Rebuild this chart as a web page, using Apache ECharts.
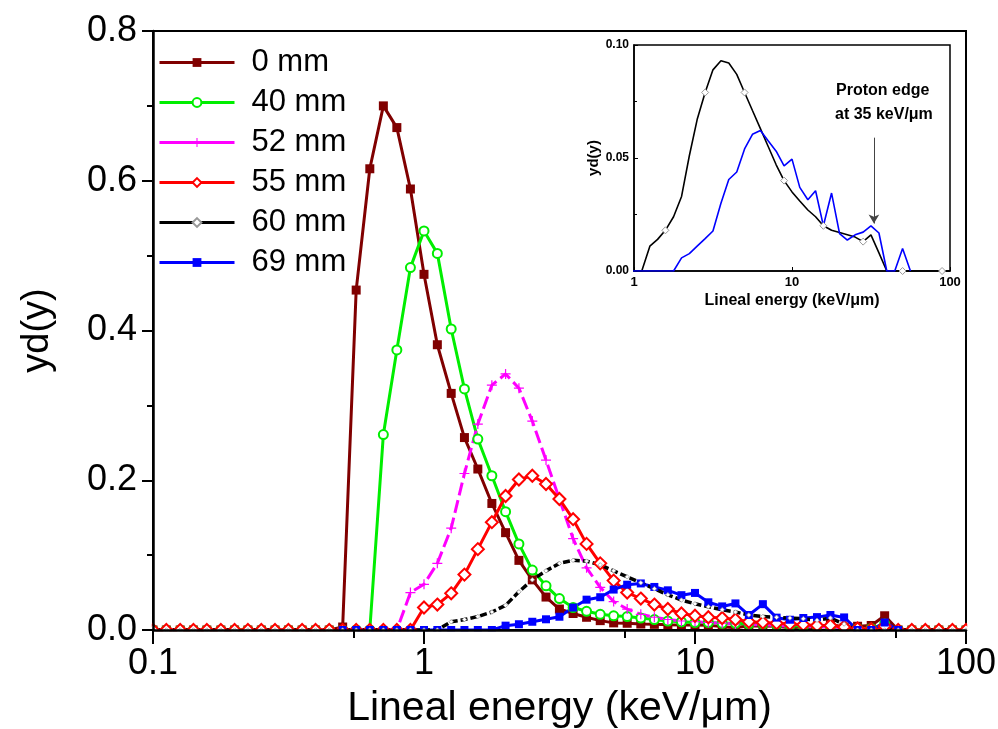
<!DOCTYPE html>
<html>
<head>
<meta charset="utf-8">
<script src="https://cdn.jsdelivr.net/npm/echarts@6/dist/echarts.min.js"></script>
<style>html,body{margin:0;padding:0;background:#fff}#c{width:998px;height:729px}</style>
</head>
<body>
<div id="c"></div>
<script>
// Lineal energy bins (keV/um), log spaced, 20 per decade
var xs = [0.1,0.112,0.126,0.141,0.158,0.178,0.2,0.224,0.251,0.282,0.316,0.355,0.398,0.447,0.501,0.562,0.631,0.708,0.794,0.891,
  1,1.12,1.26,1.41,1.58,1.78,2.0,2.24,2.51,2.82,3.16,3.55,3.98,4.47,5.01,5.62,6.31,7.08,7.94,8.91,
  10,11.2,12.6,14.1,15.8,17.8,20.0,22.4,25.1,28.2,31.6,35.5,39.8,44.7,50.1,56.2,63.1,70.8,79.4,89.1,100];

var names = ['0 mm','40 mm','52 mm','55 mm','60 mm','69 mm'];

var y0mm = [0,0,0,0,0,0,0,0,0,0,0,0,0,0,0.004,0.454,0.616,0.700,0.671,0.589,
  0.475,0.381,0.316,0.257,0.215,0.169,0.130,0.093,0.067,0.044,0.028,0.022,0.017,0.0125,0.0095,0.009,0.008,0.0076,0.007,0.0067,
  0.0067,0.0062,0.0045,0.0031,0.0058,0.0053,0.0049,0.0031,0.004,0.0027,0.0076,0.0036,0.005,0.006,0.019,0,0,0,0,0,0];
var y40mm = [0,0,0,0,0,0,0,0,0,0,0,0,0,0,0,0,0,0.261,0.374,0.484,
  0.533,0.503,0.402,0.322,0.255,0.206,0.158,0.115,0.080,0.059,0.042,0.030,0.025,0.021,0.019,0.018,0.016,0.014,0.012,0.011,
  0.010,0.010,0.009,0.009,0.008,0.008,0.007,0.006,0.005,0.005,0.004,0.003,0.002,0.002,0.008,0,0,0,0,0,0];
var y52mm = [0,0,0,0,0,0,0,0,0,0,0,0,0,0,0,0,0,0,0,0.050,
  0.061,0.089,0.136,0.209,0.275,0.327,0.342,0.323,0.279,0.227,0.175,0.122,0.083,0.057,0.038,0.028,0.021,0.017,0.014,0.012,
  0.011,0.010,0.009,0.008,0.007,0.007,0.006,0.005,0.005,0.004,0.004,0.003,0.002,0.001,0.006,0,0,0,0,0,0];
var y55mm = [0,0,0,0,0,0,0,0,0,0,0,0,0,0,0,0,0,0,0,0,
  0.030,0.034,0.049,0.074,0.108,0.144,0.179,0.201,0.206,0.195,0.175,0.148,0.115,0.089,0.066,0.050,0.042,0.034,0.028,0.022,
  0.019,0.017,0.016,0.014,0.011,0.010,0.009,0.008,0.007,0.006,0.006,0.004,0.002,0.001,0.005,0,0,0,0,0,0];
var y60mm = [0,0,0,0,0,0,0,0,0,0,0,0,0,0,0,0,0,0,0,0,
  0,0,0.011,0.014,0.018,0.024,0.033,0.051,0.067,0.079,0.089,0.093,0.092,0.087,0.079,0.071,0.063,0.055,0.047,0.040,
  0.035,0.031,0.027,0.024,0.020,0.018,0.017,0.016,0.015,0.013,0.016,0.008,0,0,0,0,0,0,0,0,0];
var y69mm = [null,null,null,null,null,null,null,null,null,null,null,null,null,null,0,0,0,0,0,0,
  0,0,0,0,0,0,0.0058,0.0077,0.011,0.0143,0.0177,0.030,0.0405,0.0438,0.054,0.0605,0.0622,0.0575,0.053,0.0465,
  0.0495,0.037,0.0315,0.0355,0.020,0.0345,0.0165,0.0137,0.016,0.0172,0.020,0.0168,0,0,0.010,0,null,null,null,null,null];

var mainXTicks = [0.1, 1, 10, 100];
var mainXMinorTicks = [0.55, 5.5, 55];
var arrowX = [33, 33];
var arrowY = [0.059, 0.021];

function pairs(ys){ return xs.map(function(x,i){ return [x, ys[i]]; }); }

var FF = '"Liberation Sans", Arial, sans-serif';
var plusPath = 'path://M0,4.4 L10,4.4 L10,5.6 L0,5.6 Z M4.4,0 L5.6,0 L5.6,10 L4.4,10 Z';

var chart = echarts.init(document.getElementById('c'), null, {renderer:'canvas'});

var s0 = {name:names[0], type:'line', data:pairs(y0mm), xAxisIndex:0, yAxisIndex:0,
   symbol:'rect', symbolSize:9, showAllSymbol:true,
   lineStyle:{color:'#800000', width:3}, itemStyle:{color:'#800000'}};
var s40 = {name:names[1], type:'line', data:pairs(y40mm), xAxisIndex:0, yAxisIndex:0,
   symbol:'emptyCircle', symbolSize:9, showAllSymbol:true,
   lineStyle:{color:'#00ee00', width:3}, itemStyle:{color:'#00ee00', borderWidth:1}};
var s52 = {name:names[2], type:'line', data:pairs(y52mm), xAxisIndex:0, yAxisIndex:0,
   symbol:plusPath, symbolSize:10, showAllSymbol:true,
   lineStyle:{color:'#ff00ff', width:3, type:[13,5]}, itemStyle:{color:'#ff00ff'}};
var s55 = {name:names[3], type:'line', data:pairs(y55mm), xAxisIndex:0, yAxisIndex:0,
   symbol:'emptyDiamond', symbolSize:12, showAllSymbol:true,
   lineStyle:{color:'#ff0000', width:3}, itemStyle:{color:'#ff0000', borderWidth:1}};
var s60 = {name:names[4], type:'line', data:pairs(y60mm), xAxisIndex:0, yAxisIndex:0,
   symbol:'diamond', symbolSize:4.5, showAllSymbol:true,
   lineStyle:{color:'#000', width:3.5, type:[7,3]}, itemStyle:{color:'#fff', borderColor:'#999', borderWidth:0.8}};
var s69 = {name:names[5], type:'line', data:pairs(y69mm), xAxisIndex:0, yAxisIndex:0,
   symbol:'rect', symbolSize:8, showAllSymbol:true, connectNulls:false,
   lineStyle:{color:'#0000ff', width:3}, itemStyle:{color:'#0000ff'}};

var series = [s0, s40, s52, s55, s69, s60,
  {name:'inset60', type:'line', data:pairs(y60mm), xAxisIndex:2, yAxisIndex:1,
   symbol:'diamond', showAllSymbol:true,
   symbolSize:function(v, p){ return (p.dataIndex % 5 === 4) ? 7 : 0; },
   lineStyle:{color:'#000', width:1.6}, itemStyle:{color:'#fff', borderColor:'#999', borderWidth:1}},
  {name:'inset69', type:'line', data:pairs(y69mm), xAxisIndex:2, yAxisIndex:1,
   symbol:'none',
   lineStyle:{color:'#0000ff', width:1.6},
   markLine:{silent:true, symbol:['none','arrow'], symbolSize:[8,9],
     lineStyle:{color:'#444', width:1, type:'solid'}, label:{show:false},
     data:[[{coord:[arrowX[0], arrowY[0]]},{coord:[arrowX[1], arrowY[1]]}]]}}
];

var option = {
  animation:false,
  backgroundColor:'#fff',
  textStyle:{fontFamily:FF},
  grid:[
    {left:153, right:32, top:31, bottom:99, outerBoundsMode:'none', containLabel:false,
     show:true, borderColor:'#000', borderWidth:2, backgroundColor:'transparent'},
    {left:634, right:48, top:45, bottom:458, outerBoundsMode:'none', containLabel:false,
     show:true, borderColor:'#000', borderWidth:1.5, backgroundColor:'transparent'}
  ],
  legend:{
    data:names, orient:'vertical', left:158, top:47, padding:0, itemWidth:75, itemHeight:11, itemGap:9,
    textStyle:{fontSize:31, color:'#000', fontFamily:FF, padding:[0,0,0,12]},
    lineStyle:{type:'solid', width:3}, selectedMode:false
  },
  xAxis:[
    {type:'log', logBase:10, min:0.1, max:100, gridIndex:0, position:'bottom', z:20,
     name:'Lineal energy (keV/\u03bcm)', nameLocation:'middle', nameGap:58,
     nameTextStyle:{fontSize:41, color:'#000', fontFamily:FF},
     axisLine:{show:true, onZero:false, lineStyle:{color:'#000', width:2.5}},
     axisTick:{show:true, inside:false, length:14, lineStyle:{color:'#000', width:2}},
     axisLabel:{fontSize:36, color:'#000', margin:16, fontFamily:FF,
       formatter:function(v){ var t = mainXTicks.find(function(t){return Math.abs(t-v) < 1e-6*Math.max(1,v);}); return String(t !== undefined ? t : v); }},
     splitLine:{show:false}, minorTick:{show:false}},
    {type:'value', min:-1, max:2, gridIndex:0, position:'bottom', z:20,
     axisLine:{show:false, onZero:false}, axisLabel:{show:false}, splitLine:{show:false},
     axisTick:{show:true, inside:false, length:8, lineStyle:{color:'#000', width:2},
       customValues: mainXMinorTicks.map(function(v){return Math.log10(v);})}},
    {type:'log', logBase:10, min:1, max:100, gridIndex:1, position:'bottom',
     name:'Lineal energy (keV/\u03bcm)', nameLocation:'middle', nameGap:22,
     nameTextStyle:{fontSize:16, fontWeight:'bold', color:'#000', fontFamily:FF},
     axisLine:{show:true, onZero:false, lineStyle:{color:'#000', width:1.5}},
     axisTick:{show:true, inside:true, length:4, lineStyle:{color:'#000', width:1}},
     axisLabel:{fontSize:13, fontWeight:'bold', color:'#000', margin:5, fontFamily:FF,
       formatter:function(v){ return String(v); }},
     splitLine:{show:false}}
  ],
  yAxis:[
    {type:'value', min:0, max:0.8, interval:0.2, gridIndex:0, z:20,
     name:'yd(y)', nameLocation:'middle', nameGap:96,
     nameTextStyle:{fontSize:38, color:'#000', fontFamily:FF},
     axisLine:{show:true, onZero:false, lineStyle:{color:'#000', width:2.5}},
     axisTick:{show:true, inside:false, length:11, lineStyle:{color:'#000', width:2}},
     minorTick:{show:true, splitNumber:2, length:6, lineStyle:{color:'#000', width:2}},
     axisLabel:{fontSize:36, color:'#000', margin:16, fontFamily:FF,
       formatter:function(v){ return v.toFixed(1); }},
     splitLine:{show:false}},
    {type:'value', min:0, max:0.1, interval:0.05, gridIndex:1,
     name:'yd(y)', nameLocation:'middle', nameGap:31,
     nameTextStyle:{fontSize:15, fontWeight:'bold', color:'#000', fontFamily:FF},
     axisLine:{show:true, onZero:false, lineStyle:{color:'#000', width:1.5}},
     axisTick:{show:true, inside:true, length:4, lineStyle:{color:'#000', width:1}},
     minorTick:{show:true, splitNumber:2, length:3, lineStyle:{color:'#000', width:1}},
     axisLabel:{fontSize:12, fontWeight:'bold', color:'#000', margin:5, fontFamily:FF,
       formatter:function(v){ return v.toFixed(2); }},
     splitLine:{show:false}}
  ],
  graphic:{
    z:10,
    elements:[
      // white masks outside the main plot area so markers sitting on the frame are half hidden
      {type:'rect', z:10, silent:true, shape:{x:0, y:631.2, width:998, height:97.8}, style:{fill:'#fff'}},
      {type:'rect', z:10, silent:true, shape:{x:0, y:0, width:151.8, height:729}, style:{fill:'#fff'}},
      {type:'rect', z:10, silent:true, shape:{x:967.2, y:0, width:30.8, height:729}, style:{fill:'#fff'}},
      {type:'text', z:11, left:836, top:83, style:{text:'Proton edge', font:'bold 16px "Liberation Sans", Arial, sans-serif', fill:'#000'}},
      {type:'text', z:11, left:835, top:107, style:{text:'at 35 keV/\u03bcm', font:'bold 16px "Liberation Sans", Arial, sans-serif', fill:'#000'}}
    ]
  },
  series:series
};
chart.setOption(option);
</script>
</body>
</html>
